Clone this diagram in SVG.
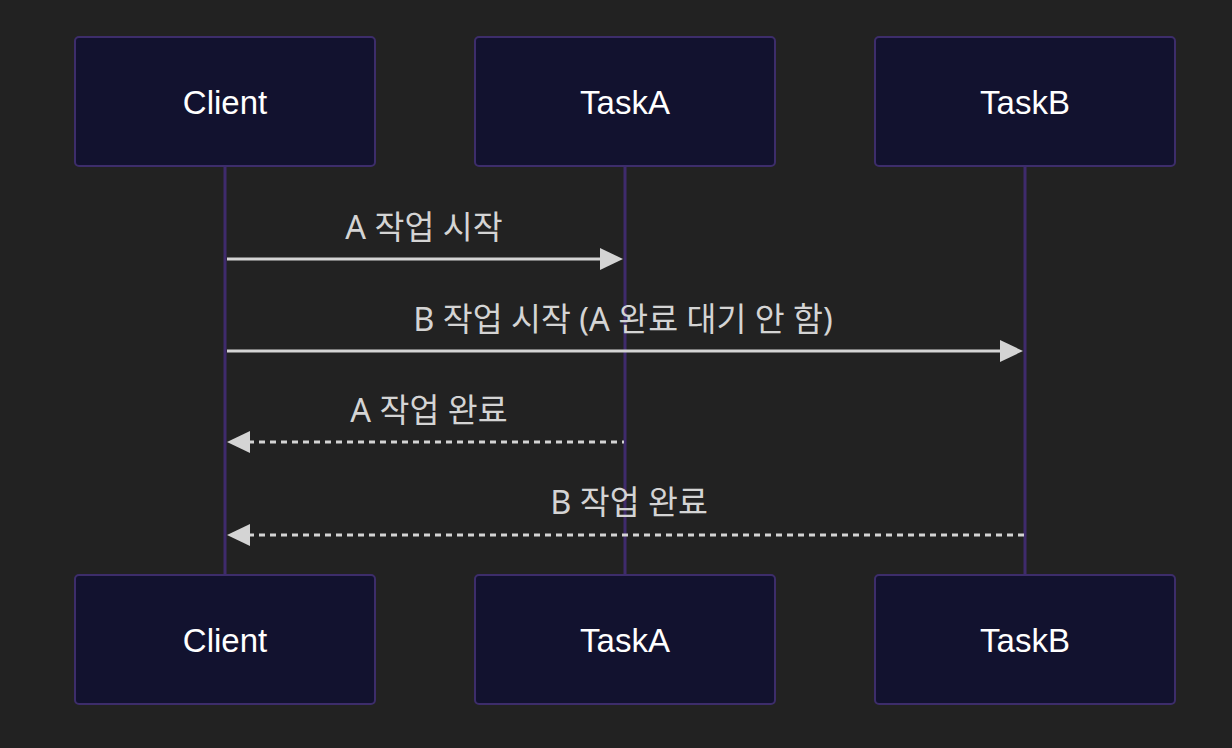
<svg xmlns="http://www.w3.org/2000/svg" width="1232" height="748" viewBox="0 0 1232 748">
<style>
.box{fill:#12122f;stroke:#3d2d6b;stroke-width:2}
.life{stroke:#3f2b6c;stroke-width:3}
.actor{font-family:"Liberation Sans","Noto Sans CJK KR",sans-serif;font-size:33px;fill:#ffffff;text-anchor:middle;dominant-baseline:central}
.lbl{font-family:"Noto Sans","Noto Sans CJK KR",sans-serif;font-size:32.5px;fill:#d4d4d4;text-anchor:middle;dominant-baseline:central}
.msg{stroke:#d4d4d4;stroke-width:3;fill:none}
.dash{stroke-dasharray:6,5}
.head{fill:#d4d4d4}
</style>
<rect width="1232" height="748" fill="#222222"/>
<g id="lifelines">
<line class="life" x1="225" y1="166" x2="225" y2="575"/>
<line class="life" x1="625" y1="166" x2="625" y2="575"/>
<line class="life" x1="1025" y1="166" x2="1025" y2="575"/>
</g>
<g id="client-top"><rect class="box" x="75" y="37" width="300" height="129" rx="4"/><text class="actor" x="225" y="102">Client</text></g>
<g id="taska-top"><rect class="box" x="475" y="37" width="300" height="129" rx="4"/><text class="actor" x="625" y="102">TaskA</text></g>
<g id="taskb-top"><rect class="box" x="875" y="37" width="300" height="129" rx="4"/><text class="actor" x="1025" y="102">TaskB</text></g>
<g id="client-bottom"><rect class="box" x="75" y="575" width="300" height="129" rx="4"/><text class="actor" x="225" y="640">Client</text></g>
<g id="taska-bottom"><rect class="box" x="475" y="575" width="300" height="129" rx="4"/><text class="actor" x="625" y="640">TaskA</text></g>
<g id="taskb-bottom"><rect class="box" x="875" y="575" width="300" height="129" rx="4"/><text class="actor" x="1025" y="640">TaskB</text></g>
<g id="connectors">
<line class="msg" x1="227" y1="259" x2="602" y2="259"/>
<polygon class="head" points="623,259 600,248 600,270"/>
<text class="lbl" x="424" y="226">A 작업 시작</text>
<line class="msg" x1="227" y1="351" x2="1002" y2="351"/>
<polygon class="head" points="1023,351 1000,340 1000,362"/>
<text class="lbl" x="623" y="318">B 작업 시작 (A 완료 대기 안 함)</text>
<line class="msg dash" x1="248" y1="442" x2="624" y2="442"/>
<polygon class="head" points="227,442 250,431 250,453"/>
<text class="lbl" x="429" y="409">A 작업 완료</text>
<line class="msg dash" x1="248" y1="535" x2="1024" y2="535"/>
<polygon class="head" points="227,535 250,524 250,546"/>
<text class="lbl" x="629" y="501">B 작업 완료</text>
</g>
</svg>
